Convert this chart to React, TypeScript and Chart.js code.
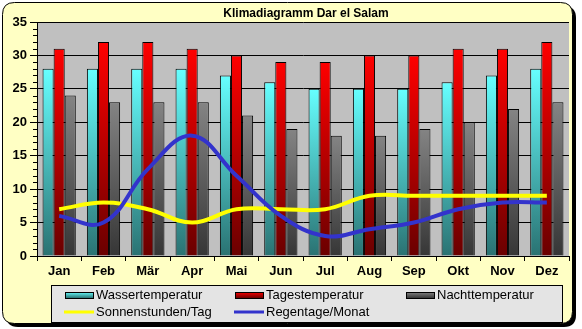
import React, { useEffect, useRef } from "react";
import { Chart, registerables } from "chart.js";

Chart.register(...registerables);

const title = "Klimadiagramm Dar el Salam";
const months = ["Jan", "Feb", "Mär", "Apr", "Mai", "Jun", "Jul", "Aug", "Sep", "Okt", "Nov", "Dez"];
const wasserTemp = [28, 28, 28, 28, 27, 26, 25, 25, 25, 26, 27, 28];
const tagesTemp = [31, 32, 32, 31, 30, 29, 29, 30, 30, 31, 31, 32];
const nachtTemp = [24, 23, 23, 23, 21, 19, 18, 18, 19, 20, 22, 23];
const sonnenstunden = [7, 8, 7, 5, 7, 7, 7, 9, 9, 9, 9, 9];
const regentage = [6, 5, 13, 18, 12, 6, 3, 4, 5, 7, 8, 8];
const yMin = 0;
const yMax = 35;
const yStep = 5;

const FONT = '"Liberation Sans", Arial, sans-serif';

type Swatch = { label: string; kind: "bar" | "line"; top: string; bottom: string };

const barColors = {
  wasser: ["#66FFFF", "#2A7272"],
  tages: ["#FF0000", "#6A0000"],
  nacht: ["#848484", "#363636"],
};
const lineColors = { sonne: "#FFFF00", regen: "#3333CC" };

function barGradient(top: string, bottom: string) {
  return (ctx: any) => {
    const chart = ctx.chart;
    if (!chart.chartArea || ctx.type !== "data") return top;
    const ys = chart.scales.y;
    const v = ctx.raw as number;
    const y0 = ys.getPixelForValue(v);
    const y1 = ys.getPixelForValue(0);
    const g = chart.ctx.createLinearGradient(0, y0, 0, y1);
    g.addColorStop(0, top);
    g.addColorStop(1, bottom);
    return g;
  };
}

function roundRect(c: CanvasRenderingContext2D, x: number, y: number, w: number, h: number, r: number) {
  c.beginPath();
  c.moveTo(x + r, y);
  c.lineTo(x + w - r, y);
  c.quadraticCurveTo(x + w, y, x + w, y + r);
  c.lineTo(x + w, y + h - r);
  c.quadraticCurveTo(x + w, y + h, x + w - r, y + h);
  c.lineTo(x + r, y + h);
  c.quadraticCurveTo(x, y + h, x, y + h - r);
  c.lineTo(x, y + r);
  c.quadraticCurveTo(x, y, x + r, y);
  c.closePath();
}

const decorPlugin = {
  id: "decor",
  beforeDraw(chart: any) {
    const c: CanvasRenderingContext2D = chart.ctx;
    const { left, right, top, bottom } = chart.chartArea;
    c.save();
    c.fillStyle = "#FFFFFF";
    c.fillRect(0, 0, chart.width, chart.height);
    // shadow
    roundRect(c, 6, 6, 570, 321, 12);
    c.fillStyle = "#000000";
    c.fill();
    // frame
    roundRect(c, 2.5, 2.5, 570, 321, 12);
    c.fillStyle = "#FFFFC4";
    c.fill();
    c.lineWidth = 1;
    c.strokeStyle = "#000000";
    c.stroke();
    // plot area
    c.fillStyle = "#C0C0C0";
    c.fillRect(left, top, right - left, bottom - top);
    c.restore();
  },
  afterDraw(chart: any) {
    const c: CanvasRenderingContext2D = chart.ctx;
    const { left, right } = chart.chartArea;
    const ys = chart.scales.y;
    c.save();
    // minor ticks
    c.strokeStyle = "#000";
    c.lineWidth = 1;
    for (let v = yMin; v <= yMax; v++) {
      if (v % yStep === 0) continue;
      const y = Math.round(ys.getPixelForValue(v)) + 0.5;
      c.beginPath();
      c.moveTo(left - 4, y);
      c.lineTo(left, y);
      c.stroke();
    }
    // title
    c.fillStyle = "#000";
    c.font = `bold 12px ${FONT}`;
    c.textAlign = "center";
    c.textBaseline = "middle";
    c.fillText(title, (left + right) / 2 + 3, 14);

    // legend
    const bx = 51, by = 285, bw = 511, bh = 37;
    c.fillStyle = "#E4E4E4";
    c.fillRect(bx, by, bw, bh);
    c.strokeStyle = "#000";
    c.strokeRect(bx + 0.5, by + 0.5, bw, bh);
    const items: Swatch[] = chart.data.datasets.map((d: any) => d._swatch);
    const colX = [65, 235, 406];
    const rowY = [295, 312];
    c.font = `13px ${FONT}`;
    c.textAlign = "left";
    c.textBaseline = "middle";
    items.forEach((it, i) => {
      const x = colX[i % 3];
      const y = rowY[Math.floor(i / 3)];
      if (it.kind === "bar") {
        const g = c.createLinearGradient(0, y - 3, 0, y + 3);
        g.addColorStop(0, it.top);
        g.addColorStop(1, it.bottom);
        c.fillStyle = g;
        c.fillRect(x, y - 3, 28, 6);
        c.strokeStyle = "#000";
        c.strokeRect(x + 0.5, y - 3 + 0.5, 28, 6);
      } else {
        c.strokeStyle = it.top;
        c.lineWidth = 3;
        c.beginPath();
        c.moveTo(x - 1, y);
        c.lineTo(x + 29, y);
        c.stroke();
        c.lineWidth = 1;
      }
      c.fillStyle = "#000";
      c.fillText(it.label, x + 31, y);
    });
    c.restore();
  },
};

export default function App() {
  const ref = useRef<HTMLCanvasElement | null>(null);
  useEffect(() => {
    if (!ref.current) return;
    const mk = (label: string, data: number[], cols: string[]) => ({
      type: "bar" as const,
      label,
      data,
      backgroundColor: barGradient(cols[0], cols[1]),
      borderColor: "#000",
      borderWidth: 1,
      categoryPercentage: 0.75,
      barPercentage: 1,
      order: 2,
      _swatch: { label, kind: "bar", top: cols[0], bottom: cols[1] },
    });
    const chart = new Chart(ref.current, {
      type: "bar",
      data: {
        labels: months,
        datasets: [
          mk("Wassertemperatur", wasserTemp, barColors.wasser),
          mk("Tagestemperatur", tagesTemp, barColors.tages),
          mk("Nachttemperatur", nachtTemp, barColors.nacht),
          {
            type: "line",
            label: "Sonnenstunden/Tag",
            data: sonnenstunden,
            borderColor: lineColors.sonne,
            borderWidth: 4,
            pointRadius: 0,
            tension: 0.4,
            fill: false,
            order: 1,
            _swatch: { label: "Sonnenstunden/Tag", kind: "line", top: lineColors.sonne, bottom: lineColors.sonne },
          } as any,
          {
            type: "line",
            label: "Regentage/Monat",
            data: regentage,
            borderColor: lineColors.regen,
            borderWidth: 4,
            pointRadius: 0,
            tension: 0.4,
            fill: false,
            order: 0,
            _swatch: { label: "Regentage/Monat", kind: "line", top: lineColors.regen, bottom: lineColors.regen },
          } as any,
        ] as any,
      },
      options: {
        animation: false,
        responsive: false,
        devicePixelRatio: 1,
        layout: { padding: { left: 0, top: 22, right: 13, bottom: 43 } },
        plugins: { legend: { display: false }, title: { display: false }, tooltip: { enabled: false } },
        scales: {
          x: {
            offset: true,
            ticks: { color: "#000", font: { family: FONT, size: 13, weight: "bold" }, padding: 3, autoSkip: false, maxRotation: 0 },
            grid: { offset: true, drawOnChartArea: false, drawTicks: true, tickLength: 5, color: "#000" },
            border: { color: "#000", width: 1 },
            afterFit: (s: any) => { s.height = 30; },
          },
          y: {
            min: yMin,
            max: yMax,
            ticks: { stepSize: yStep, color: "#000", font: { family: FONT, size: 13, weight: "bold" }, padding: 3 },
            grid: { color: "#000", lineWidth: 1, tickLength: 7, drawTicks: true },
            border: { color: "#000", width: 1 },
            afterFit: (s: any) => { s.width = 37; },
          },
        },
      } as any,
      plugins: [decorPlugin],
    });
    return () => chart.destroy();
  }, []);
  return (
    <div style={{ position: "fixed", left: 0, top: 0, width: 582, height: 329 }}>
      <canvas ref={ref} width={582} height={329} style={{ display: "block" }} />
    </div>
  );
}
